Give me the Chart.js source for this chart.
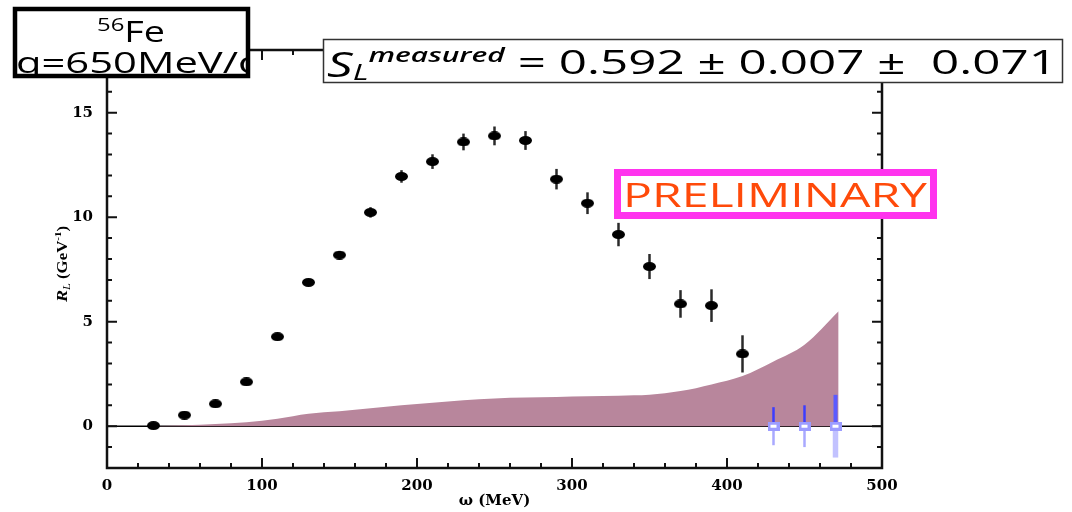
<!DOCTYPE html>
<html>
<head>
<meta charset="utf-8">
<script src="https://cdn.jsdelivr.net/npm/chart.js@4.4.0/dist/chart.umd.min.js"></script>
<style>
  body { margin: 0; background: #fff; }
  canvas { display: block; }
</style>
</head>
<body>
<canvas id="graphe" width="1072" height="512"></canvas>
<script>
// points mesurés (omega en MeV, R_L en GeV^-1)
const omega = [30, 50, 70, 90, 110, 130, 150, 170, 190, 210, 230, 250, 270, 290, 310, 330, 350, 370, 390, 410];
const rL = [0.03, 0.53, 1.07, 2.12, 4.28, 6.88, 8.19, 10.23, 11.95, 12.66, 13.6, 13.89, 13.67, 11.82, 10.67, 9.17, 7.64, 5.85, 5.77, 3.46];
const rLErr = [0.05, 0.07, 0.09, 0.11, 0.13, 0.15, 0.2, 0.25, 0.3, 0.35, 0.4, 0.45, 0.45, 0.49, 0.52, 0.56, 0.6, 0.66, 0.78, 0.89];

// bande d'erreur systématique
const bandOmega = [30, 50, 70, 90, 110, 130, 150, 170, 190, 210, 230, 250, 270, 290, 310, 330, 350, 370, 390, 410, 430, 450, 472];
const bandTop = [0, 0.04, 0.1, 0.19, 0.36, 0.6, 0.72, 0.86, 1.0, 1.12, 1.24, 1.33, 1.37, 1.4, 1.43, 1.46, 1.5, 1.68, 2.0, 2.4, 3.1, 3.9, 5.5];

// points ouverts (bleus)
const openOmega = [430, 450, 470];
const openVal = [0, 0, 0];
const openErr = [0.91, 1.0, 1.5];

// ticks
const xTicks = [0, 100, 200, 300, 400, 500];
const yTicks = [0, 5, 10, 15];

// marqueurs (image étirée comme la figure)
const makeMarker = (w, h, draw) => {
    const c = document.createElement('canvas');
    c.width = w; c.height = h;
    draw(c.getContext('2d'), w, h);
    return c;
};
const dot = makeMarker(13, 9, (g, w, h) => {
    g.fillStyle = '#000';
    g.beginPath();
    g.ellipse(w / 2, h / 2, w / 2, h / 2, 0, 0, Math.PI * 2);
    g.fill();
});
const carre = makeMarker(12, 9, (g, w, h) => {
    g.fillStyle = '#fff';
    g.fillRect(0, 0, w, h);
    g.strokeStyle = '#9c9cff';
    g.lineWidth = 3;
    g.strokeRect(1.5, 1.5, w - 3, h - 3);
});

const ptsData = omega.map((x, i) => ({ x: x, y: rL[i] }));
const bandData = bandOmega.map((x, i) => ({ x: x, y: bandTop[i] }));
const openData = openOmega.map((x, i) => ({ x: x, y: openVal[i] }));

// texte en plusieurs morceaux, étiré horizontalement pour tenir dans une largeur
const drawRuns = (ctx, runs, x0, baseline, targetWidth) => {
    let total = 0;
    runs.forEach(r => { ctx.font = r.font; total += ctx.measureText(r.t).width; });
    const sx = targetWidth ? targetWidth / total : 1;
    ctx.save();
    ctx.translate(x0, baseline);
    ctx.scale(sx, 1);
    let x = 0;
    runs.forEach(r => {
        ctx.font = r.font;
        ctx.fillStyle = r.color || '#000';
        ctx.textAlign = 'left';
        ctx.textBaseline = 'alphabetic';
        ctx.fillText(r.t, x, r.dy || 0);
        x += ctx.measureText(r.t).width;
    });
    ctx.restore();
};

const decor = {
    id: 'decor',
    beforeDatasetsDraw(chart) {
        const ctx = chart.ctx;
        const xs = chart.scales.x, ys = chart.scales.y;
        // ligne du zéro
        ctx.save();
        ctx.strokeStyle = '#000';
        ctx.lineWidth = 1.5;
        ctx.beginPath();
        ctx.moveTo(xs.left, ys.getPixelForValue(0));
        ctx.lineTo(xs.right, ys.getPixelForValue(0));
        ctx.stroke();
        ctx.restore();
    },
    beforeDatasetDraw(chart, args) {
        const ctx = chart.ctx;
        const xs = chart.scales.x, ys = chart.scales.y;
        ctx.save();
        ctx.lineCap = 'butt';
        if (args.index === 1) {
            ctx.strokeStyle = '#2a2a2a';
            ctx.lineWidth = 2.5;
            omega.forEach((x, i) => {
                const px = xs.getPixelForValue(x);
                ctx.beginPath();
                ctx.moveTo(px, ys.getPixelForValue(rL[i] - rLErr[i]));
                ctx.lineTo(px, ys.getPixelForValue(rL[i] + rLErr[i]));
                ctx.stroke();
            });
        }
        if (args.index === 2) {
            openOmega.forEach((x, i) => {
                const px = xs.getPixelForValue(x);
                ctx.lineWidth = i === 2 ? 4 : 2.5;
                ctx.strokeStyle = i === 2 ? '#5a5aff' : '#3c3cff';
                ctx.beginPath();
                ctx.moveTo(px, ys.getPixelForValue(openVal[i]));
                ctx.lineTo(px, ys.getPixelForValue(openVal[i] + openErr[i]));
                ctx.stroke();
                ctx.strokeStyle = i === 2 ? '#c2c2ff' : '#a9a9ff';
                ctx.lineWidth = i === 2 ? 5.5 : 2.5;
                ctx.beginPath();
                ctx.moveTo(px, ys.getPixelForValue(openVal[i]));
                ctx.lineTo(px, ys.getPixelForValue(openVal[i] - openErr[i]));
                ctx.stroke();
            });
        }
        ctx.restore();
    },
    afterDraw(chart) {
        const ctx = chart.ctx;
        const xs = chart.scales.x, ys = chart.scales.y;
        const a = chart.chartArea;

        // cadre + ticks vers l'intérieur
        ctx.save();
        ctx.strokeStyle = '#111';
        ctx.lineWidth = 2.5;
        ctx.strokeRect(a.left, a.top, a.right - a.left, a.bottom - a.top);
        ctx.lineWidth = 2;
        for (let v = 0; v <= 500; v += 20) {
            const px = xs.getPixelForValue(v);
            const l = v % 100 === 0 ? 10 : 5;
            ctx.beginPath();
            ctx.moveTo(px, a.bottom); ctx.lineTo(px, a.bottom - l);
            ctx.moveTo(px, a.top); ctx.lineTo(px, a.top + l);
            ctx.stroke();
        }
        for (let v = -2; v <= 18; v += 1) {
            const py = ys.getPixelForValue(v);
            const l = v % 5 === 0 ? 10 : 5;
            ctx.beginPath();
            ctx.moveTo(a.left, py); ctx.lineTo(a.left + l, py);
            ctx.moveTo(a.right, py); ctx.lineTo(a.right - l, py);
            ctx.stroke();
        }
        ctx.restore();

        // titre axe x
        ctx.save();
        ctx.font = 'bold 15px "DejaVu Serif"';
        ctx.fillStyle = '#000';
        ctx.textAlign = 'center';
        ctx.textBaseline = 'middle';
        ctx.fillText('ω (MeV)', (a.left + a.right) / 2, 501);
        ctx.restore();

        // titre axe y
        ctx.save();
        ctx.translate(67, 302);
        ctx.rotate(-Math.PI / 2);
        drawRuns(ctx, [
            { t: 'R', font: 'italic bold 15px "Liberation Serif"' },
            { t: 'L', font: 'italic 10px "Liberation Serif"', dy: 3 },
            { t: ' (GeV', font: 'bold 14px "Liberation Serif"' },
            { t: '-1', font: 'bold 9px "Liberation Serif"', dy: -6 },
            { t: ')', font: 'bold 14px "Liberation Serif"' }
        ], 0, 0, 76);
        ctx.restore();

        // boite 56Fe
        ctx.save();
        ctx.fillStyle = '#fff';
        ctx.fillRect(15, 9, 233, 67);
        ctx.beginPath();
        ctx.rect(17, 11, 229, 63);
        ctx.clip();
        drawRuns(ctx, [
            { t: '56', font: '19px "Open Sans"', dy: -11 },
            { t: 'Fe', font: '30px "Open Sans"' }
        ], 97, 42, 68);
        drawRuns(ctx, [
            { t: 'q=650MeV/c', font: '29px "Open Sans"' }
        ], 16, 73, 242);
        ctx.restore();
        ctx.save();
        ctx.strokeStyle = '#000';
        ctx.lineWidth = 4.5;
        ctx.strokeRect(15, 9, 233, 67);
        ctx.restore();

        // boite S_L
        ctx.save();
        ctx.fillStyle = '#fff';
        ctx.fillRect(323, 39, 740, 44);
        ctx.strokeStyle = '#333';
        ctx.lineWidth = 1.5;
        ctx.strokeRect(323.5, 39.5, 739, 43);
        drawRuns(ctx, [
            { t: 'S', font: 'italic 34px "Open Sans"', dy: 3 },
            { t: 'L', font: 'italic 22px "Open Sans"', dy: 6 },
            { t: 'measured', font: 'italic 600 20px "Open Sans"', dy: -12 },
            { t: ' = 0.592 ± 0.007 ±  0.071', font: '33px "Open Sans"' }
        ], 327, 74, 730);
        ctx.restore();

        // boite PRELIMINARY
        ctx.save();
        ctx.fillStyle = '#fff';
        ctx.fillRect(614, 169, 323, 50);
        ctx.strokeStyle = '#ff33ee';
        ctx.lineWidth = 7;
        ctx.strokeRect(617.5, 172.5, 316, 43);
        drawRuns(ctx, [
            { t: 'PRELIMINARY', font: '32px "Open Sans"', color: '#ff4a0a' }
        ], 623, 207, 304);
        ctx.restore();
    }
};

const ctx = document.getElementById('graphe').getContext('2d');
const monGraphe = new Chart(ctx, {
    type: 'scatter',
    data: {
        datasets: [{
            type: 'line',
            label: 'systematique',
            data: bandData,
            fill: 'origin',
            backgroundColor: '#b8869c',
            borderWidth: 0,
            pointRadius: 0,
            cubicInterpolationMode: 'monotone',
            order: 3
        }, {
            label: 'R_L',
            data: ptsData,
            pointStyle: dot,
            order: 2
        }, {
            label: 'ouverts',
            data: openData,
            pointStyle: carre,
            order: 1
        }]
    },
    plugins: [decor],
    options: {
        responsive: false,
        animation: false,
        events: [],
        layout: { padding: { top: 50, right: 190, left: 0, bottom: 0 } },
        plugins: {
            legend: { display: false },
            tooltip: { enabled: false }
        },
        scales: {
            x: {
                type: 'linear',
                min: 0,
                max: 500,
                afterFit: s => { s.height = 44; },
                afterBuildTicks: s => { s.ticks = xTicks.map(v => ({ value: v })); },
                grid: { display: false, drawTicks: false },
                border: { display: false },
                ticks: {
                    padding: 9,
                    color: '#000',
                    maxRotation: 0,
                    font: { family: 'DejaVu Serif', weight: 'bold', size: 15 }
                }
            },
            y: {
                type: 'linear',
                min: -2,
                max: 18,
                afterFit: s => { s.width = 107; },
                afterBuildTicks: s => { s.ticks = yTicks.map(v => ({ value: v })); },
                grid: { display: false, drawTicks: false },
                border: { display: false },
                ticks: {
                    padding: 14,
                    color: '#000',
                    font: { family: 'DejaVu Serif', weight: 'bold', size: 15 }
                }
            }
        }
    }
});
</script>
</body>
</html>
